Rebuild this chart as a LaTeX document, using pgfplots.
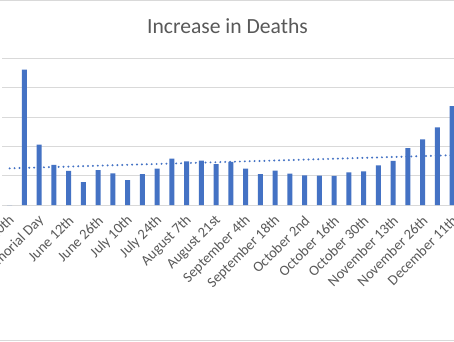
\documentclass[border=0pt]{standalone}
\usepackage{pgfplots}
\pgfplotsset{compat=1.18}
\usepackage{pgfplotstable}
\usepackage{fontspec}
\setmainfont{Carlito}
\definecolor{barblue}{HTML}{4472C4}
\definecolor{txtgray}{HTML}{595959}
\definecolor{gridgray}{HTML}{D9D9D9}
\pgfplotstableread{
idx v
0 0
1 4.61
2 2.06
3 1.37
4 1.16
5 0.78
6 1.19
7 1.08
8 0.85
9 1.05
10 1.24
11 1.58
12 1.49
13 1.51
14 1.39
15 1.47
16 1.24
17 1.05
18 1.17
19 1.07
20 1.01
21 1.00
22 0.99
23 1.11
24 1.15
25 1.35
26 1.50
27 1.94
28 2.24
29 2.65
30 3.37
}\deaths
\begin{document}
\begin{tikzpicture}[x=1pt,y=1pt]
\begin{scope}
\clip (0,0) rectangle (454,341);
\fill[white] (0,0) rectangle (454,341);
\begin{axis}[
  at={(2.3pt,136pt)}, anchor=south west,
  scale only axis, width=457.3pt, height=146.7pt,
  xmin=-0.5, xmax=30.5, ymin=0, ymax=5,
  ytick={0,1,2,3,4,5}, yticklabels={},
  ymajorgrids, grid style={gridgray, line width=0.9pt},
  axis line style={draw=none},
  major tick length=0pt,
  xtick={0,2,...,30},
  xticklabels={May 10th,Memorial Day,June 12th,June 26th,July 10th,July 24th,August 7th,August 21st,September 4th,September 18th,October 2nd,October 16th,October 30th,November 13th,November 26th,December 11th},
  x tick label style={font=\fontsize{14.5}{16}\selectfont, text=txtgray, xshift=2.5pt, yshift=-13pt, rotate=45, anchor=east, inner sep=0pt},
  clip=false,
]
\addplot[ybar, bar width=5pt, fill=barblue, draw=none] table[x=idx, y=v] {\deaths};
\addplot[barblue, line width=2.2pt, line cap=round, dash pattern=on 0pt off 4.9pt, no marks]
  table[x=idx, y={create col/linear regression={y=v}}] {\deaths};
\end{axis}
\node[text=txtgray, font=\fontsize{21.6}{24}\selectfont] at (227.5, 341-26) {Increase in Deaths};
\draw[gridgray, line width=1.2pt] (0,340.6) -- (454,340.6);
\draw[gridgray, line width=1.2pt] (0,0.4) -- (454,0.4);
\end{scope}
\pgfresetboundingbox
\useasboundingbox (0,0) rectangle (454,341);
\end{tikzpicture}
\end{document}
